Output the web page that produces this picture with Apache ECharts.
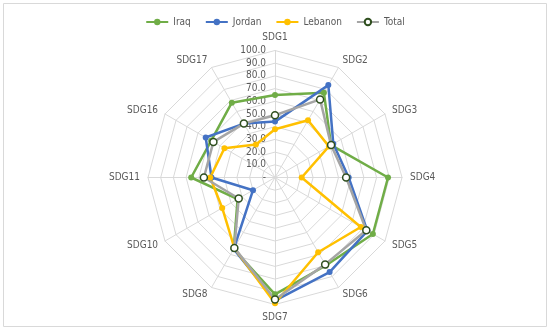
<!DOCTYPE html>
<html><head><meta charset="utf-8">
<script src="https://cdn.jsdelivr.net/npm/echarts@6/dist/echarts.min.js"></script>
<style>html,body{margin:0;padding:0;background:#fff}#c{width:550px;height:330px}</style>
</head><body><div id="c"></div>
<script>
const categories = ['SDG1','SDG2','SDG3','SDG4','SDG5','SDG6','SDG7','SDG8','SDG10','SDG11','SDG16','SDG17'];
const iraq    = [65, 77, 51, 89, 89, 80, 92, 65, 34, 66, 58, 68];
const jordan  = [44, 84, 53, 58, 84, 86, 97, 65, 20, 50, 63, 49];
const lebanon = [38, 52, 49, 21, 78, 68, 99, 64, 48, 51, 46, 30];
const total   = [49, 71, 51, 56, 83, 79, 96, 64, 33, 56, 56, 49];
const seriesNames = ['Iraq','Jordan','Lebanon','Total'];

// ECharts places indicators counter-clockwise; reorder so they run clockwise like the reference
const order = [0].concat(categories.map((_, i) => i).slice(1).reverse());
const reorder = arr => order.map(i => arr[i]);

const font = "'DejaVu Sans Condensed', 'Liberation Sans', sans-serif";
const fs = 10;
const txt = '#595959';
const colors = { Iraq: '#70AD47', Jordan: '#4472C4', Lebanon: '#FFC000', Total: '#A5A5A5' };
const totalStyle = { color: '#ffffff', borderColor: '#2F4F1F', borderWidth: 1.5 };

const chart = echarts.init(document.getElementById('c'));
const indicator = order.map((i, k) => {
  const ind = { name: categories[i], min: 0, max: 100 };
  if (k === 0) ind.axisLabel = { show: true };
  return ind;
});
// legend-only line series (empty) so legend shows line + marker like the reference
const legendSeries = seriesNames.map(n => ({
  type: 'line', name: n, data: [], symbol: 'circle', symbolSize: 6,
  lineStyle: { color: colors[n], width: 2.5 },
  itemStyle: n === 'Total' ? totalStyle : { color: colors[n] }
}));
const mk = (name, vals) => ({
  type: 'radar', name: name,
  symbol: 'circle', symbolSize: name === 'Total' ? 7 : 6,
  lineStyle: { color: colors[name], width: 2.5 },
  itemStyle: name === 'Total' ? totalStyle : { color: colors[name] },
  data: [{ name: name, value: reorder(vals) }]
});
chart.setOption({
  animation: false,
  textStyle: { fontFamily: font },
  grid: { show: false, left: 0, top: 0, width: 1, height: 1 },
  xAxis: { type: 'category', show: false, data: [] },
  yAxis: { type: 'value', show: false },
  legend: {
    top: 12, left: 'center', itemWidth: 22, itemHeight: 8, itemGap: 14,
    textStyle: { color: txt, fontSize: fs, fontFamily: font },
    data: seriesNames
  },
  graphic: [{ type: 'rect', shape: { x: 3.5, y: 3.5, width: 543, height: 323 }, style: { fill: 'none', stroke: '#D9D9D9', lineWidth: 1 }, silent: true }],
  radar: {
    center: [275, 177.5], radius: 127, startAngle: 90, splitNumber: 10, shape: 'polygon',
    nameGap: 8,
    axisName: { color: txt, fontSize: fs, fontFamily: font },
    axisLine: { lineStyle: { color: '#D9D9D9' } },
    splitLine: { lineStyle: { color: '#D9D9D9', width: 1 } },
    splitArea: { show: false },
    axisLabel: { show: false, color: txt, fontSize: fs, fontFamily: font, margin: 9,
      formatter: v => v === 0 ? '-' : Number(v).toFixed(1) },
    indicator: indicator
  },
  series: legendSeries.concat([
    mk('Iraq', iraq),
    mk('Jordan', jordan),
    mk('Lebanon', lebanon),
    mk('Total', total)
  ])
});
</script></body></html>
